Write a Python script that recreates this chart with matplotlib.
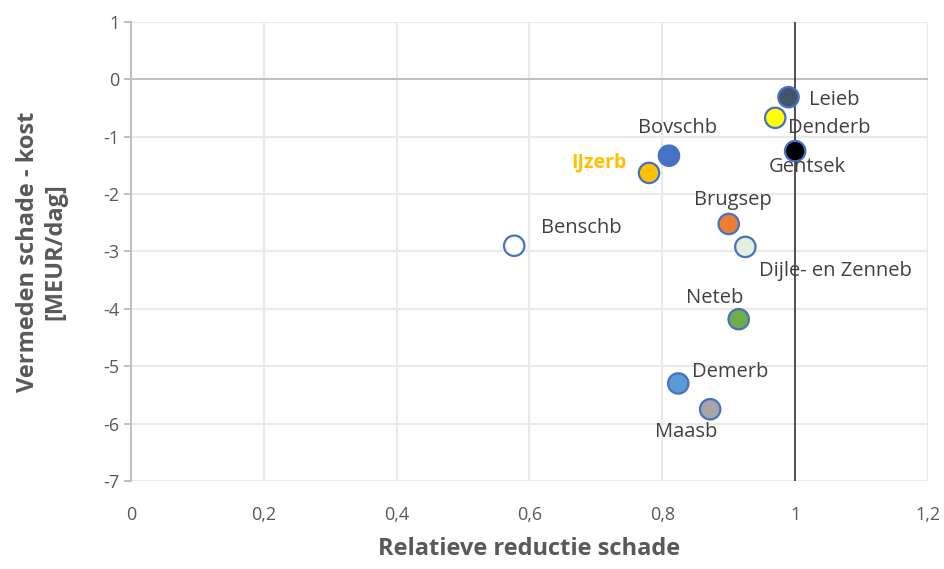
import matplotlib.pyplot as plt
import numpy as np

plt.rcParams['font.family'] = ['Open Sans', 'DejaVu Sans']

# data
names = ['Leieb', 'Denderb', 'Gentsek', 'Bovschb', 'IJzerb', 'Brugsep',
         'Dijle- en Zenneb', 'Benschb', 'Neteb', 'Demerb', 'Maasb']
rel_reductie = [0.99, 0.97, 1.0, 0.81, 0.78, 0.90, 0.925, 0.577, 0.915, 0.824, 0.872]
vermeden = [-0.31, -0.67, -1.25, -1.33, -1.63, -2.52, -2.92, -2.9, -4.18, -5.30, -5.75]

fills = ['#44546A', '#FFFF00', '#000000', '#4472C4', '#FFC000', '#ED7D31',
         '#E2EFDA', '#FFFFFF', '#70AD47', '#5B9BD5', '#A5A5A5']
# label offsets in points (dx, dy), text left-aligned
offsets = [(15, -2), (9.4, -7.2), (-18.7, -11.5), (-22.3, 20.2), (-56, 7.2),
           (-25.2, 17.3), (10, -17.3), (19.4, 13), (-38, 15), (10, 8), (-39.6, -16.6)]

grey = '#595959'
fig = plt.figure(figsize=(9.45, 5.69), dpi=100)
ax = fig.add_axes([0.1386, 0.1547, 0.8434, 0.8066])

ax.set_xlim(0, 1.2)
ax.set_ylim(-7, 1)
ax.set_xticks(np.arange(0, 1.21, 0.2))
ax.set_yticks(np.arange(-7, 1.1, 1))
ax.set_xticklabels(['0', '0,2', '0,4', '0,6', '0,8', '1', '1,2'])
ax.set_yticklabels([str(v) for v in range(-7, 2)])
ax.grid(True, color='#E9E9E9', linewidth=1.5)
ax.set_axisbelow(True)
for s in ['top', 'right', 'bottom']:
    ax.spines[s].set_visible(False)
ax.spines['left'].set_color('#BFBFBF')
ax.spines['left'].set_linewidth(1.4)
ax.tick_params(axis='y', colors='#BFBFBF', length=5, width=1.4, labelcolor=grey, labelsize=13)
ax.tick_params(axis='x', length=0, labelcolor=grey, labelsize=13, pad=18)
ax.axhline(0, color='#BFBFBF', linewidth=1.4, zorder=1)
ax.axvline(1, color='#262626', linewidth=1.1, zorder=2)

ax.scatter(rel_reductie, vermeden, s=215, c=fills, edgecolors='#4472C4',
           linewidths=1.6, zorder=3)

for n, x, y, (dx, dy) in zip(names, rel_reductie, vermeden, offsets):
    if n == 'IJzerb':
        ax.annotate(n, (x, y), xytext=(dx, dy), textcoords='offset points',
                    ha='left', va='center', fontsize=14, color='#FFC000', fontweight='bold')
    else:
        ax.annotate(n, (x, y), xytext=(dx, dy), textcoords='offset points',
                    ha='left', va='center', fontsize=14.5, color='#404040')

ax.set_xlabel('Relatieve reductie schade', fontsize=17, fontweight='bold', color=grey)
ax.set_ylabel('Vermeden schade - kost\n[MEUR/dag]', fontsize=17, fontweight='bold', color=grey)
ax.xaxis.set_label_coords(0.5, -0.122)
ax.yaxis.set_label_coords(-0.08, 0.5)

fig.savefig('out.png', dpi=100)
